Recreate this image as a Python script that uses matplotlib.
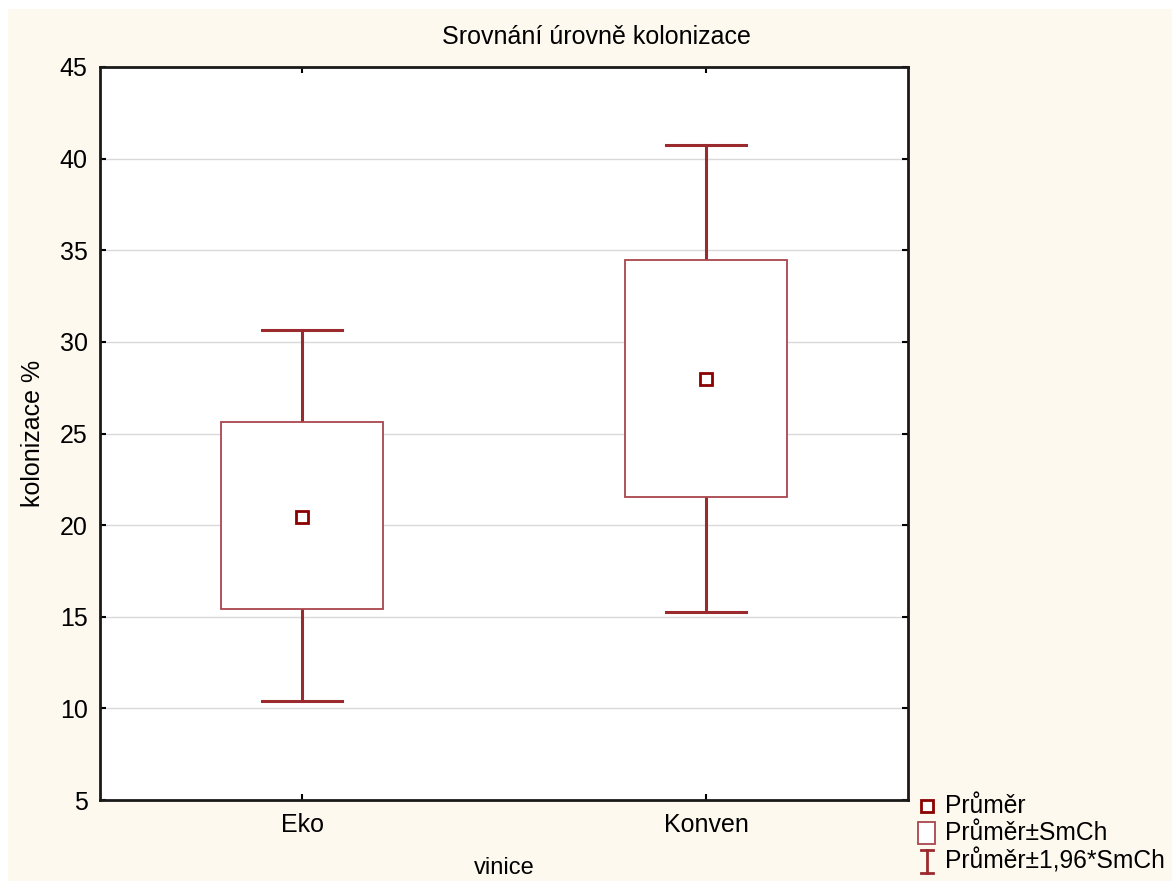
import matplotlib
matplotlib.use('Agg')
import matplotlib.pyplot as plt
from matplotlib.lines import Line2D
from matplotlib.patches import Rectangle

# values
groups = ['Eko', 'Konven']
means = [20.45, 27.97]
box_low = [15.42, 21.53]
box_high = [25.63, 34.47]
whisker_low = [10.40, 15.26]
whisker_high = [30.65, 40.74]
y_ticks = [5, 10, 15, 20, 25, 30, 35, 40, 45]
legend_labels = ['Průměr', 'Průměr±SmCh', 'Průměr±1,96*SmCh']

plt.rcParams['font.family'] = ['Liberation Sans', 'DejaVu Sans']

W, H = 1172, 881
mean_color = '#8b0000'
box_color = '#a8474c'
whisker_color = '#9b2a2f'
back_color = '#fdf9ef'

fig = plt.figure(figsize=(W / 100, H / 100), dpi=100, facecolor='white')
fig.add_artist(Rectangle((8 / W, 0), 1 - 8 / W, 1 - 9 / H, transform=fig.transFigure,
                         facecolor=back_color, edgecolor='none', zorder=-10))

ax = fig.add_axes([100 / W, 1 - 800 / H, 808 / W, 733 / H])
ax.set_facecolor('white')

box_width = 0.4
cap_width = 0.2
for i, name in enumerate(groups):
    ax.plot([i, i], [box_high[i], whisker_high[i]], color=whisker_color, lw=2.2, zorder=3)
    ax.plot([i, i], [whisker_low[i], box_low[i]], color=whisker_color, lw=2.2, zorder=3)
    ax.plot([i - cap_width / 2, i + cap_width / 2], [whisker_high[i]] * 2,
            color=whisker_color, lw=2.2, zorder=3)
    ax.plot([i - cap_width / 2, i + cap_width / 2], [whisker_low[i]] * 2,
            color=whisker_color, lw=2.2, zorder=3)
    ax.add_patch(Rectangle((i - box_width / 2, box_low[i]), box_width, box_high[i] - box_low[i],
                           facecolor='white', edgecolor=box_color, lw=1.3, zorder=3))
    ax.plot([i], [means[i]], marker='s', ms=8.5, mfc='white', mec=mean_color, mew=2,
            ls='none', zorder=4)

ax.set_xlim(-0.5, 1.5)
ax.set_ylim(5, 45)
ax.set_xticks(range(len(groups)))
ax.set_xticklabels(groups)
ax.set_yticks(y_ticks)
ax.yaxis.grid(True, color='#d9d9d9', lw=1)
ax.set_axisbelow(True)
ax.tick_params(direction='in', length=4, width=1.5, labelsize=18, top=True, right=True,
               color='black')
ax.tick_params(axis='y', pad=9)
ax.tick_params(axis='x', pad=9)
for spine in ax.spines.values():
    spine.set_linewidth(2)
    spine.set_color('#1a1a1a')

ax.set_xlabel('vinice', fontsize=17)
ax.xaxis.set_label_coords(0.5, (800 - 868) / 733)
ax.xaxis.label.set_va('center')
ax.set_ylabel('kolonizace %', fontsize=18)
ax.yaxis.set_label_coords((33 - 100) / 808, 0.5)
ax.yaxis.label.set_va('center')

fig.text(596 / W, 1 - 37 / H, 'Srovnání úrovně kolonizace', fontsize=18,
         ha='center', va='center')

# legend drawn by hand at the lower right
rows_y = [806, 833, 861]
sym_x = 927
for label, y in zip(legend_labels, rows_y):
    fig.text(945 / W, 1 - y / H, label, fontsize=17.7, ha='left', va='center')
fig.add_artist(Line2D([sym_x / W], [1 - rows_y[0] / H], marker='s', ms=8, mfc='white',
                      mec=mean_color, mew=2, ls='none', transform=fig.transFigure))
fig.add_artist(Rectangle(((sym_x - 9) / W, 1 - (rows_y[1] + 11) / H), 17 / W, 22 / H,
                         facecolor='white', edgecolor=box_color, lw=1.3,
                         transform=fig.transFigure))
y0, y1 = 1 - (rows_y[2] - 11) / H, 1 - (rows_y[2] + 12) / H
fig.add_artist(Line2D([sym_x / W] * 2, [y0, y1], color=whisker_color, lw=2,
                      transform=fig.transFigure))
for yy in (y0, y1):
    fig.add_artist(Line2D([(sym_x - 6) / W, (sym_x + 6) / W], [yy, yy], color=whisker_color,
                          lw=2, transform=fig.transFigure))

fig.savefig('out.png', dpi=100, facecolor=fig.get_facecolor())
